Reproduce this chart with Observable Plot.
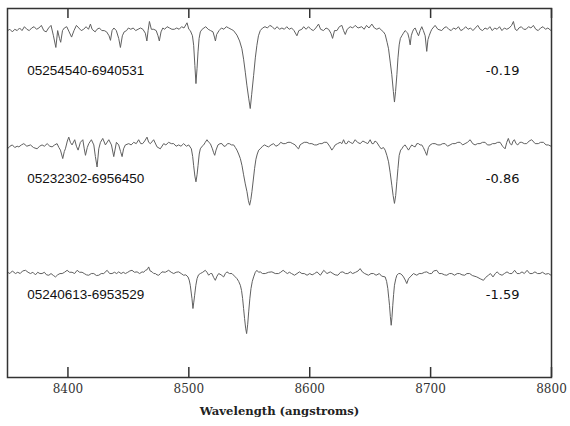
<!DOCTYPE html>
<html>
<head>
<meta charset="utf-8">
<script src="https://cdn.jsdelivr.net/npm/d3@7"></script>
<script src="https://cdn.jsdelivr.net/npm/@observablehq/plot@0.6"></script>
<style>
  html, body { margin: 0; padding: 0; background: #fff; }
</style>
</head>
<body>
<div id="chart"></div>
<script>
// Star identifiers, metallicities and vertical offsets (normalized flux units)
const names = ["05254540-6940531", "05232302-6956450", "05240613-6953529"];
const metallicity = ["-0.19", "-0.86", "-1.59"];
const offsets = [1.87, 0.97, 0];
const labelFlux = [2.553, 1.721, 0.828];
const xTicks = [8400, 8500, 8600, 8700, 8800];
const xLabel = "Wavelength (angstroms)";

// Spectra: [wavelength (Å), normalized flux]
const spec1 = [
[8350,0.99],[8352,1.00],[8354,0.98],[8356,1.00],[8358,0.99],[8360,1.01],[8362,0.99],[8364,1.02],[8366,1.00],[8368,0.99],
[8370,1.01],[8372,1.02],[8374,1.00],[8376,1.01],[8378,1.03],[8380,0.99],[8382,0.98],[8384,1.01],[8386,1.03],[8388,0.95],
[8390,0.86],[8391.5,0.99],[8393,0.93],[8394,0.90],[8395.5,0.99],[8397,1.01],[8399,1.02],[8401,0.98],[8403,0.94],[8405,0.99],
[8407,1.03],[8409,1.01],[8411,0.99],[8413,1.00],[8415,1.02],[8417,1.00],[8418.6,1.04],[8420,1.00],[8422.5,0.98],[8424,1.00],
[8426,1.01],[8428,0.99],[8430,0.99],[8432,0.98],[8434,0.95],[8435.2,0.915],[8436.5,0.99],[8438,1.01],[8440,0.99],[8442,0.93],
[8443.4,0.86],[8445,0.95],[8446.5,0.98],[8448.5,0.99],[8450,1.01],[8452,1.00],[8454,1.01],[8456,0.99],[8458,1.00],[8460,1.01],
[8462,1.00],[8464,0.97],[8465.3,0.91],[8466.3,0.99],[8467.4,1.06],[8469,1.00],[8471,1.00],[8473,0.99],[8474.5,0.95],[8475.6,0.91],
[8477,0.98],[8478.5,1.01],[8480,1.00],[8482,1.02],[8484,1.01],[8486,1.00],[8488,1.00],[8490,1.01],[8492,1.00],[8494,1.02],
[8496,1.01],[8498.5,1.05],[8500,1.00],[8501.2,0.99],[8503,0.95],[8504,0.877],[8505,0.72],[8505.9,0.582],[8506.8,0.70],[8507.6,0.826],
[8508.5,0.93],[8509.5,0.98],[8511,1.00],[8512.5,1.01],[8514,1.02],[8516,1.00],[8518,0.99],[8520,0.98],[8521.2,0.94],[8522,0.91],
[8523,0.96],[8525,0.99],[8527,1.01],[8529,1.00],[8531,1.02],[8533,1.01],[8535,1.00],[8537,0.99],[8539.8,0.955],[8542,0.91],
[8543.9,0.85],[8545.3,0.77],[8546.7,0.67],[8548,0.57],[8549.5,0.47],[8550.8,0.39],[8552,0.50],[8553.6,0.646],[8555,0.78],[8556.3,0.877],
[8557.6,0.95],[8559.1,0.99],[8561,1.01],[8563,1.02],[8565,1.01],[8567,1.03],[8569,1.02],[8571,1.00],[8573,1.02],[8575,1.00],
[8577,1.01],[8579,1.00],[8581,1.02],[8583,1.00],[8585,1.01],[8587,0.99],[8589.4,0.95],[8591,0.99],[8593.5,1.00],[8595,1.02],
[8597,1.00],[8599,1.02],[8601,1.00],[8603,0.99],[8605,1.01],[8607.3,1.04],[8609,1.00],[8611.4,0.99],[8613.5,1.01],[8615.6,1.00],
[8617.5,0.97],[8618.9,0.93],[8620.5,0.99],[8622.5,0.99],[8624.5,1.02],[8626.6,1.03],[8628,0.99],[8629.4,0.96],[8631,1.00],[8633.5,1.02],
[8635.5,1.01],[8637.6,1.03],[8640,1.01],[8643,1.02],[8645,1.00],[8647,1.03],[8649,1.01],[8651.4,1.04],[8653.5,1.01],[8655.5,1.00],
[8657.5,1.01],[8659.7,0.99],[8661,0.98],[8662.4,0.96],[8664,0.90],[8665.2,0.85],[8666.7,0.74],[8667.9,0.65],[8669.2,0.52],[8670.1,0.44],
[8671,0.52],[8672.1,0.65],[8673,0.78],[8674,0.88],[8675,0.93],[8676.2,0.95],[8677.5,0.97],[8678.9,0.99],[8680,0.98],[8681.1,0.97],
[8682.2,0.93],[8683.1,0.88],[8684,0.95],[8685,0.98],[8686,1.00],[8687.2,1.01],[8688.5,0.98],[8690,0.95],[8691.3,0.99],[8692.7,1.02],
[8694,0.99],[8695.5,0.95],[8696.8,0.83],[8697.8,0.92],[8698.8,0.95],[8700,0.98],[8701,1.00],[8703.7,1.03],[8706,1.00],[8709.2,0.99],
[8711,1.01],[8713,1.02],[8715,1.00],[8717,0.99],[8719,1.01],[8721,1.00],[8723,1.02],[8725,0.99],[8727,1.00],[8729,1.02],
[8731,1.00],[8733,1.01],[8735,0.99],[8737,1.01],[8739,1.03],[8741,1.00],[8743,0.99],[8745,1.01],[8747,1.00],[8749,1.02],
[8751,0.99],[8753,1.01],[8755,1.00],[8757,1.02],[8759,0.99],[8761,1.01],[8763,1.00],[8765,1.01],[8767,1.03],[8768.5,1.06],
[8770,1.00],[8771.5,0.99],[8773,1.01],[8775,1.02],[8777,1.00],[8779,1.00],[8781,1.02],[8783,1.01],[8785,1.03],[8787,1.00],
[8789,0.99],[8791,1.01],[8793,1.02],[8795,1.00],[8797,1.01],[8799.6,0.99]
];

const spec2 = [
[8350,0.98],[8352,1.00],[8354,1.01],[8356,0.99],[8358,1.00],[8359.4,0.995],[8361.5,1.01],[8363.5,1.02],[8366,1.00],[8369,1.01],
[8371.5,0.99],[8374.5,0.98],[8376.5,1.00],[8378.6,1.01],[8380.5,1.00],[8382.8,1.02],[8385,1.00],[8386.9,0.995],[8389,1.01],[8391,1.02],
[8392.5,0.99],[8393.8,0.97],[8395.7,0.905],[8397,0.96],[8397.9,0.98],[8399.5,1.04],[8400.7,1.07],[8402,1.03],[8403.4,1.01],[8405.6,1.05],
[8407,1.00],[8408.4,0.97],[8410.3,1.03],[8412.3,1.05],[8413.5,0.98],[8414.5,0.93],[8416,0.99],[8417.2,1.02],[8419.4,1.05],[8421.4,1.01],
[8422.7,0.92],[8424.1,0.84],[8425.5,0.98],[8426.9,1.03],[8428.8,1.06],[8431,1.01],[8433.8,1.05],[8436,1.01],[8437.9,0.92],[8440.1,1.03],
[8442,1.01],[8443.5,0.96],[8444.8,0.92],[8446,0.98],[8447.5,1.01],[8450.3,1.02],[8452.3,1.01],[8454.4,1.03],[8456.5,1.02],[8458.5,1.05],
[8460.2,1.02],[8461.8,1.02],[8463.5,1.04],[8465.4,1.07],[8466.8,1.03],[8468.2,1.02],[8470.9,1.05],[8473.7,0.995],[8476.4,0.98],[8479.2,1.02],
[8481,1.01],[8483.3,1.03],[8485.5,1.02],[8487.5,1.02],[8489.5,1.00],[8491.6,1.01],[8493.5,1.00],[8495.7,1.02],[8498,1.00],[8499.9,1.01],
[8502.1,0.98],[8503.2,0.92],[8504,0.85],[8505,0.77],[8505.9,0.726],[8506.8,0.78],[8507.6,0.85],[8508.6,0.94],[8509.5,0.98],[8511,1.00],
[8512.3,1.01],[8513.6,1.03],[8515,1.05],[8516.5,1.03],[8517.8,1.02],[8519.5,0.98],[8520.5,0.95],[8521.4,0.93],[8522.5,0.97],[8524.1,1.01],
[8525.8,1.02],[8527.4,1.02],[8529,1.00],[8530.2,1.00],[8532,1.02],[8533.5,1.02],[8535.3,1.01],[8537.1,1.01],[8538.5,0.99],[8539.8,0.97],
[8541.2,0.94],[8542.6,0.905],[8544,0.85],[8545.3,0.78],[8546.7,0.71],[8548.1,0.65],[8549.3,0.58],[8550.3,0.546],[8551.3,0.59],[8552.2,0.65],
[8553.3,0.74],[8554.4,0.83],[8555.5,0.90],[8556.6,0.94],[8557.8,0.97],[8559.1,0.98],[8561,1.00],[8562.7,1.01],[8564.5,1.00],[8566,0.995],
[8568,1.01],[8570.1,1.02],[8572,1.00],[8574.2,1.01],
[8576,1.03],[8578,1.02],[8579.8,1.02],[8582,1.03],[8583.9,1.03],[8586,1.02],[8588,1.01],[8589.5,0.99],[8590.8,0.98],[8592,1.01],
[8593.5,1.02],[8595.5,1.03],[8597.7,1.03],[8599.8,1.02],[8601.8,1.02],[8604,1.01],[8605.9,1.01],[8608,1.02],[8610.1,1.02],[8612,1.03],
[8614.2,1.03],[8616.5,1.00],[8618.3,0.97],[8619.8,0.99],[8621.1,1.01],[8623,1.02],[8625.2,1.03],[8626.6,1.02],[8628,1.05],[8629.4,1.02],
[8630.7,1.02],[8632,1.04],[8633.5,1.03],[8635.5,1.02],[8637.6,1.05],[8639.5,1.03],[8641.7,1.02],[8644,1.04],[8645.9,1.03],[8648,1.02],
[8650,1.05],[8651.5,1.02],[8652.8,1.02],[8654,1.04],[8655.5,1.03],[8657.5,1.00],[8659.1,0.98],[8661,0.99],[8662.4,0.97],[8663.8,0.93],
[8665.2,0.88],[8666.5,0.80],[8667.9,0.70],[8669,0.62],[8670.1,0.56],[8671.1,0.62],[8672.1,0.73],[8673,0.83],[8674,0.93],[8675.2,0.97],
[8676.2,0.98],[8677.5,1.00],[8678.9,1.01],[8680.3,0.99],[8681.7,0.97],[8683,0.99],[8684.4,1.01],[8685.8,1.00],[8687.2,0.995],[8688.6,1.02],
[8690,1.02],[8691.3,1.01],[8692.7,1.01],[8694,0.99],[8695.5,0.96],[8696.8,0.93],[8698.2,0.99],[8699.6,1.01],[8701.5,1.02],[8703.7,1.02],
[8706,1.01],[8707.9,1.01],[8710,1.02],[8712,1.02],[8714,1.00],[8716.1,1.01],[8718,1.02],[8720.3,1.02],[8722.5,1.03],[8724.4,1.03],
[8726.5,1.01],[8728.5,1.02],[8730.5,1.03],[8732.7,1.05],[8734.8,1.02],[8736.8,1.01],[8738.8,1.02],[8740.9,1.02],[8743,1.03],[8745.1,1.03],
[8747,1.01],[8749.2,1.01],[8751.2,1.02],[8753.3,1.02],[8755.5,1.03],[8757.5,1.03],[8759.5,1.00],[8761.6,0.98],[8763,1.03],[8764.3,1.06],
[8765.7,1.02],[8767.1,1.01],[8768.2,1.04],[8769.3,1.05],[8770.7,1.02],[8772.1,1.01],[8773.8,1.03],[8775.4,1.03],[8777.5,1.02],[8779.5,1.02],
[8781.5,1.04],[8783.6,1.05],[8786.5,1.02],[8789.1,1.02],[8791,1.03],[8793.3,1.03],[8795.5,1.01],[8797.4,1.01],[8799.6,1.00]
];

const spec3 = [
[8350,1.00],[8352,0.99],[8354,1.01],[8356.6,0.99],[8358.5,1.00],[8360.5,0.99],[8362.5,1.01],[8364.9,1.015],[8367,1.00],[8369,0.99],
[8371,1.00],[8373.1,0.98],[8375,1.00],[8376.8,0.99],[8378.6,0.99],[8380.5,1.00],[8382.3,0.98],[8384.2,0.977],[8386,0.99],[8388,0.975],
[8389.7,0.964],[8391.5,0.98],[8393.4,0.99],[8395.2,0.99],[8397.2,1.00],[8399.3,1.015],[8401.3,1.00],[8403.4,1.00],[8405.5,0.99],[8407.6,1.015],
[8409.6,1.00],[8411.7,1.00],[8413.5,0.99],[8415.3,0.98],[8417.2,0.977],[8419.3,0.99],[8421.4,0.99],[8423.5,0.975],[8425.5,0.977],[8427.5,0.99],
[8429.6,0.99],[8432.4,1.015],[8434.5,0.99],[8436.5,0.99],[8438.5,1.00],[8440.3,0.99],[8442,1.003],[8444,0.99],[8445.8,1.00],[8447.5,0.99],
[8449.5,1.00],[8451.2,1.01],[8453,1.015],[8455,1.00],[8457.2,1.003],[8459.3,0.99],[8461.3,1.003],[8462.7,1.00],[8464.1,1.015],[8465.5,1.02],
[8466.8,1.041],[8468,1.01],[8469.6,1.003],[8471,0.99],[8472.3,0.99],[8473.7,0.98],[8475.1,0.977],[8476.5,0.99],[8477.8,1.003],[8480.5,1.00],
[8483.3,1.015],[8485.4,1.00],[8487.5,0.99],[8489.5,1.00],[8491.6,1.003],[8493.7,0.99],[8495.7,0.977],[8497.5,0.98],[8499.3,0.964],[8500.3,0.94],
[8501.2,0.90],[8502,0.84],[8502.6,0.797],[8503.4,0.721],[8504.1,0.77],[8504.8,0.823],[8505.8,0.90],[8506.8,0.951],[8508,0.98],[8509.5,0.99],
[8511.5,1.00],[8513.6,1.015],[8515,1.00],[8516.4,0.977],[8517.8,0.99],[8519.1,0.99],[8520.5,0.96],[8521.9,0.938],[8523.3,0.97],[8524.7,0.99],
[8526.7,0.98],[8528.8,0.964],[8530.2,0.99],[8531.5,1.003],[8533.6,0.99],[8535.7,0.99],[8537.8,0.97],[8539.8,0.951],[8541.2,0.93],[8542.6,0.90],
[8543.6,0.86],[8544.5,0.797],[8545.3,0.72],[8546.1,0.644],[8547,0.57],[8547.8,0.528],[8548.7,0.60],[8549.5,0.695],[8550.5,0.80],[8551.4,0.874],
[8552.5,0.93],[8553.6,0.964],[8555,1.00],[8556.3,1.015],[8557.7,1.00],[8559.1,1.003],[8561,0.99],[8563.2,0.99],[8566,1.00],[8568.7,1.003],
[8571.5,0.99],[8574.2,0.99],
[8576,1.00],[8578,1.015],[8580,1.00],[8581.5,0.99],[8583.2,1.00],[8585,0.99],[8587.4,0.977],[8589.5,0.99],[8591.5,1.003],[8593.5,0.99],
[8595.5,0.99],[8597.8,0.977],[8600,0.99],[8602,0.98],[8604,0.99],[8606,1.003],[8608.8,0.977],[8611.6,1.015],[8614.3,0.99],[8617,1.003],
[8619.2,0.99],[8621,0.98],[8623.3,0.977],[8625.5,1.00],[8627.4,1.003],[8629.5,0.99],[8631.5,0.99],[8633.6,1.003],[8635.5,0.99],[8638,1.00],
[8640,1.01],[8641.7,1.028],[8643.5,1.003],[8645.5,0.99],[8648.6,0.977],[8650.7,0.99],[8652.8,0.99],[8654.9,0.977],[8657.6,0.99],[8659.5,0.97],
[8662.4,0.964],[8663.6,0.93],[8664.6,0.874],[8665.4,0.80],[8666,0.746],[8666.7,0.66],[8667.4,0.592],[8668,0.65],[8668.7,0.746],[8669.4,0.83],
[8670.1,0.90],[8671.2,0.95],[8672.1,0.977],[8673.5,0.99],[8674.8,0.99],[8676.3,0.98],[8677.6,0.964],[8679,0.94],[8680.3,0.913],[8681.7,0.95],
[8683.1,0.964],[8685.8,0.99],[8688.6,0.977],[8690.5,0.99],[8692.7,0.99],[8695,1.00],[8696.8,1.003],[8699,0.99],[8700.9,0.99],[8702.5,1.01],
[8705.1,1.015],[8707,0.99],[8709.2,0.99],[8711.5,0.98],[8713.4,0.977],[8715.5,0.99],[8717.5,0.99],[8719.8,0.977],[8722,0.99],[8724,0.99],
[8726,0.98],[8728.2,0.977],[8730,0.99],[8732.3,0.99],[8734.5,0.975],[8738.2,0.964],[8741,0.95],[8743.7,0.938],[8745.5,0.96],[8747.8,0.977],
[8749.5,0.99],[8751.6,0.964],[8753.5,0.99],[8755,1.003],[8757,0.985],[8759.1,0.977],[8761,0.99],[8763.2,1.003],[8765.3,0.99],[8767.3,0.99],
[8769.5,1.015],[8771.5,0.99],[8773.6,0.99],[8775.6,1.003],[8777.5,0.99],[8779.8,1.015],[8782,0.99],[8784.1,0.99],[8786.3,1.003],[8788.4,0.99],
[8790.5,0.99],[8792.5,1.00],[8795,0.985],[8797.5,0.99],[8799.6,0.977]
];

const spectra = [spec1, spec2, spec3];
const rows = spectra.flatMap((s, i) => s.map(([w, f]) => ({w, f: f + offsets[i], star: names[i]})));

const nameX = 8366.3;   // label anchor (Å) for star names
const metalX = 8773.5;  // label anchor (Å) for metallicities

const chart = Plot.plot({
  width: 570,
  height: 426,
  marginLeft: 7,
  marginRight: 19,
  marginTop: 8,
  marginBottom: 49,
  style: {background: "#fff"},
  x: {domain: [8350, 8800], axis: null},
  y: {domain: [0.19, 3.03], axis: null},
  marks: [
    Plot.line(rows, {x: "w", y: "f", z: "star", stroke: "#606060", strokeWidth: 1}),
    Plot.frame({stroke: "#333", strokeWidth: 1.5}),
    Plot.tickX(xTicks, {x: d => d, insetBottom: 359, stroke: "#333", strokeWidth: 1.5}),
    Plot.tickX(xTicks, {x: d => d, insetTop: 359, stroke: "#333", strokeWidth: 1.5}),
    Plot.text(xTicks, {x: d => d, frameAnchor: "bottom", dy: 15.5, text: d => String(d),
      fontFamily: "DejaVu Serif", fontSize: 12, fill: "#333"}),
    Plot.text([xLabel], {frameAnchor: "bottom", dy: 37, text: d => d,
      fontFamily: "DejaVu Serif", fontWeight: "bold", fontSize: 11.6, fill: "#222"}),
    Plot.text(names, {x: () => nameX, y: (d, i) => labelFlux[i], text: d => d, textAnchor: "start",
      fontFamily: "Liberation Sans", fontSize: 13.5, fill: "#111"}),
    Plot.text(metallicity, {x: () => metalX, y: (d, i) => labelFlux[i], text: d => d, textAnchor: "end",
      fontFamily: "DejaVu Sans", fontSize: 13, fill: "#111"})
  ]
});
document.getElementById("chart").appendChild(chart);
</script>
</body>
</html>
